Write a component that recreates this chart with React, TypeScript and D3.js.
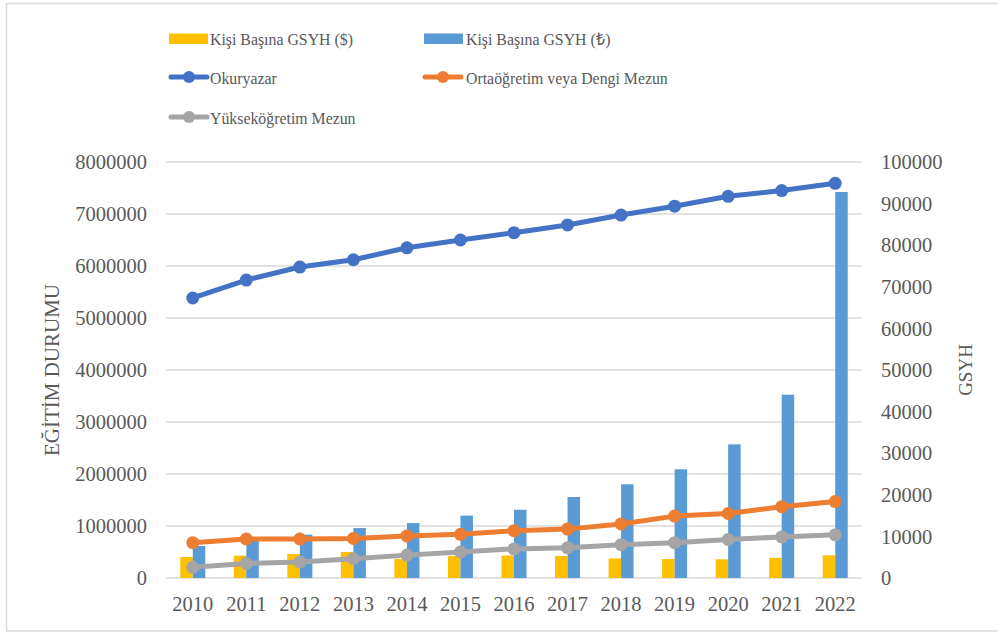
import React from "react";
import * as d3 from "d3";

const years = ["2010","2011","2012","2013","2014","2015","2016","2017","2018","2019","2020","2021","2022"];
const gsyhUsd = [5050, 5380, 5770, 6250, 4560, 5300, 5400, 5290, 4700, 4570, 4490, 4850, 5450];
const gsyhTl = [7700, 9100, 10400, 12000, 13200, 15000, 16400, 19470, 22520, 26130, 32130, 44060, 92790];
const okuryazar = [5385000, 5730000, 5980000, 6120000, 6350000, 6500000, 6640000, 6790000, 6980000, 7150000, 7340000, 7450000, 7590000];
const ortaogretim = [680000, 750000, 750000, 760000, 810000, 840000, 910000, 940000, 1040000, 1190000, 1240000, 1370000, 1470000];
const yuksekogretim = [205000, 280000, 310000, 370000, 440000, 500000, 560000, 580000, 640000, 680000, 740000, 790000, 830000];
const leftTicks = [0, 1000000, 2000000, 3000000, 4000000, 5000000, 6000000, 7000000, 8000000];
const rightTicks = [0, 10000, 20000, 30000, 40000, 50000, 60000, 70000, 80000, 90000, 100000];

const FONT = "'Liberation Serif', 'Times New Roman', serif";
const TXT = "#595959";
const GRID = "#D9D9D9";

function LegendText({ x, y, children }: { x: number; y: number; children: React.ReactNode }) {
  return (
    <text transform={`translate(${x},${y}) scale(0.9,1)`} dy="0.35em" fontFamily={FONT} fontSize={17.6} fill={TXT}>
      {children}
    </text>
  );
}

export default function App() {
  const W = 998, H = 635;
  const L = 166, R = 862, T = 162, B = 578;
  const x = d3.scaleBand<string>().domain(years).range([L, R]).padding(0);
  const yL = d3.scaleLinear().domain([0, 8000000]).range([B, T]);
  const yR = d3.scaleLinear().domain([0, 100000]).range([B, T]);
  const bw = 12.5;
  const sub = d3.scaleBand<string>().domain(["usd", "tl"]).range([-bw, bw]).padding(0);
  const cx = (i: number) => (x(years[i]) as number) + x.bandwidth() / 2;

  const line = d3.line<number>().x((_, i) => cx(i)).y((d) => yL(d));

  const lineSeries = [
    { name: "Okuryazar", data: okuryazar, color: "#4472C4" },
    { name: "Ortaöğretim veya Dengi Mezun", data: ortaogretim, color: "#ED7D31" },
    { name: "Yükseköğretim Mezun", data: yuksekogretim, color: "#A5A5A5" },
  ];

  return (
    <svg width={W} height={H} style={{ position: "absolute", left: 0, top: 0 }} fontFamily={FONT}>
      <rect x={0} y={0} width={W} height={H} fill="#fff" />
      <rect x={6.5} y={3.5} width={W} height={627.5} fill="none" stroke={GRID} strokeWidth={1.5} />

      {leftTicks.map((t) => (
        <line key={t} x1={L} x2={R} y1={yL(t)} y2={yL(t)} stroke={GRID} strokeWidth={1.5} />
      ))}

      {leftTicks.map((t) => (
        <text key={t} x={147} y={yL(t)} dy="0.35em" textAnchor="end" fontFamily={FONT} fontSize={20.5} fill={TXT}>{t}</text>
      ))}
      {rightTicks.map((t) => (
        <text key={t} x={881} y={yR(t)} dy="0.35em" textAnchor="start" fontFamily={FONT} fontSize={20.5} fill={TXT}>{t}</text>
      ))}
      {years.map((yv, i) => (
        <text key={yv} x={cx(i)} y={604} dy="0.35em" textAnchor="middle" fontFamily={FONT} fontSize={20.5} fill={TXT}>{yv}</text>
      ))}

      <text transform={`translate(59,370) rotate(-90)`} textAnchor="middle" fontFamily={FONT} fontSize={21} fill={TXT}>EĞİTİM DURUMU</text>
      <text transform={`translate(972,370) rotate(-90)`} textAnchor="middle" fontFamily={FONT} fontSize={19} fill={TXT}>GSYH</text>

      {years.map((yv, i) => (
        <g key={yv}>
          <rect x={cx(i) + (sub("usd") as number)} y={yR(gsyhUsd[i])} width={sub.bandwidth()} height={B - yR(gsyhUsd[i])} fill="#FFC000" />
          <rect x={cx(i) + (sub("tl") as number)} y={yR(gsyhTl[i])} width={sub.bandwidth()} height={B - yR(gsyhTl[i])} fill="#5B9BD5" />
        </g>
      ))}

      {lineSeries.map((s) => (
        <g key={s.name}>
          <path d={line(s.data) as string} fill="none" stroke={s.color} strokeWidth={5} strokeLinejoin="round" strokeLinecap="round" />
          {s.data.map((d, i) => (
            <circle key={i} cx={cx(i)} cy={yL(d)} r={6.5} fill={s.color} />
          ))}
        </g>
      ))}

      <g>
        <rect x={169} y={33.5} width={39} height={10.5} fill="#FFC000" />
        <LegendText x={210} y={39}>Kişi Başına GSYH ($)</LegendText>
        <rect x={424} y={33.5} width={39} height={10.5} fill="#5B9BD5" />
        <LegendText x={466} y={39}>Kişi Başına GSYH (₺)</LegendText>

        <line x1={171} x2={207} y1={77} y2={77} stroke="#4472C4" strokeWidth={5} strokeLinecap="round" />
        <circle cx={189} cy={77} r={6} fill="#4472C4" />
        <LegendText x={210} y={78}>Okuryazar</LegendText>
        <line x1={425} x2={461} y1={77} y2={77} stroke="#ED7D31" strokeWidth={5} strokeLinecap="round" />
        <circle cx={443} cy={77} r={6} fill="#ED7D31" />
        <LegendText x={466} y={78}>Ortaöğretim veya Dengi Mezun</LegendText>

        <line x1={171} x2={207} y1={117} y2={117} stroke="#A5A5A5" strokeWidth={5} strokeLinecap="round" />
        <circle cx={189} cy={117} r={6} fill="#A5A5A5" />
        <LegendText x={210} y={118}>Yükseköğretim Mezun</LegendText>
      </g>
    </svg>
  );
}
